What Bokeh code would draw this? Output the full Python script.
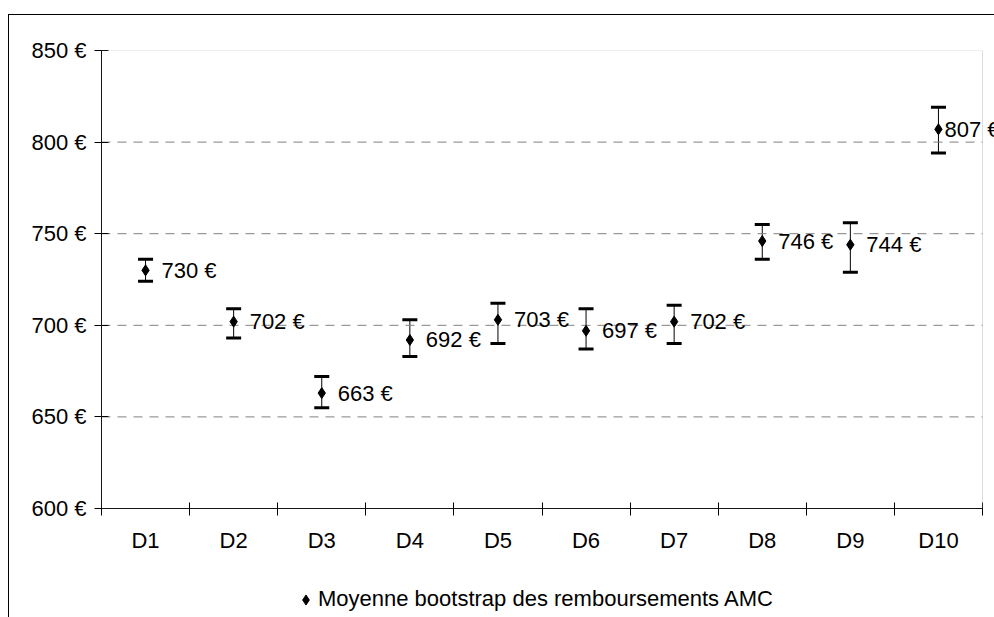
import numpy as np
from bokeh.plotting import figure
from bokeh.layouts import column
from bokeh.models import (ColumnDataSource, Whisker, TeeHead, LabelSet, FixedTicker,
                          PrintfTickFormatter, CustomJSTickFormatter, Legend, LegendItem,
                          BoxAnnotation, Range1d)
from bokeh.core.properties import value
from bokeh.embed import file_html
from bokeh.resources import INLINE

# Deciles and bootstrap means of the AMC reimbursements, with their intervals
deciles = ["D1", "D2", "D3", "D4", "D5", "D6", "D7", "D8", "D9", "D10"]
means = [730, 702, 663, 692, 703, 697, 702, 746, 744, 807]
lower = [724, 693, 655, 683, 690, 687, 690, 736, 729, 794]
upper = [736, 709, 672, 703, 712, 709, 711, 755, 756, 819]
y_ticks = [600, 650, 700, 750, 800, 850]
series_name = "Moyenne bootstrap des remboursements AMC"

FONT = "Liberation Sans"
FS = "22px"
GRID_GREY = "#808080"
n = len(deciles)

x = np.arange(n) + 0.5
# value labels sit right of each marker; the last one is pulled in to stay readable
label_dx = [16] * (n - 1) + [6]
src = ColumnDataSource(dict(
    x=x, mean=means, lower=lower, upper=upper,
    label=[f"{m} €" for m in means], dx=label_dx,
))

# the frame runs to the canvas edge so the last value label is not cut;
# the drawn plot area itself stops at x = n
x_end = n * 893 / 881
p = figure(width=985, height=553, output_backend="svg", toolbar_location=None,
           x_range=Range1d(0, x_end), y_range=Range1d(600, 850),
           min_border_left=92, min_border_right=0, min_border_top=35,
           min_border_bottom=60)
p.background_fill_color = "white"
p.border_fill_color = "white"
p.outline_line_color = None

# dashed horizontal gridlines across the plot area
grid_src = ColumnDataSource(dict(y=y_ticks[1:-1]))
p.segment(x0=0, x1=n, y0="y", y1="y", source=grid_src,
          line_color=GRID_GREY, line_dash="9 7", line_width=1)

# plot-area border
p.add_layout(BoxAnnotation(left=0, right=n, bottom=y_ticks[0], top=y_ticks[-1],
                           fill_color=None, fill_alpha=0,
                           line_color="#8c8c8c", line_width=1))

# error bars
whisk = Whisker(base="x", lower="lower", upper="upper", source=src,
                dimension="height", line_color="black", line_width=1,
                upper_head=TeeHead(size=15, line_width=3, line_color="black"),
                lower_head=TeeHead(size=15, line_width=3, line_color="black"))
p.add_layout(whisk)

r = p.scatter("x", "mean", source=src, marker="diamond", size=11,
              color="black")

labels = LabelSet(x="x", y="mean", text="label", source=src, x_offset="dx",
                  text_baseline="middle", text_align="left",
                  text_font=value(FONT), text_font_size=value(FS),
                  text_color="black")
p.add_layout(labels)

# x axis: boundary ticks as minor ticks, labels at category centres
p.xaxis.bounds = (0, n)
p.xaxis.ticker = FixedTicker(ticks=list(x), minor_ticks=list(range(n + 1)))
p.xaxis.formatter = CustomJSTickFormatter(args=dict(names=deciles),
                                          code="return names[Math.floor(tick)] || ''")
p.xaxis.major_tick_in = 0
p.xaxis.major_tick_out = 0
p.xaxis.minor_tick_in = 6
p.xaxis.minor_tick_out = 7
p.xaxis.minor_tick_line_color = "black"
p.xaxis.axis_line_color = "black"
p.xaxis.major_label_standoff = 12
p.xaxis.major_label_text_font = FONT
p.xaxis.major_label_text_font_size = FS
p.xaxis.major_label_text_color = "black"

# y axis
p.yaxis.ticker = FixedTicker(ticks=y_ticks)
p.yaxis.formatter = PrintfTickFormatter(format="%d €")
p.yaxis.major_tick_in = 7
p.yaxis.major_tick_out = 7
p.yaxis.minor_tick_line_color = None
p.yaxis.axis_line_color = "black"
p.yaxis.major_tick_line_color = "black"
p.yaxis.major_label_standoff = 8
p.yaxis.major_label_text_font = FONT
p.yaxis.major_label_text_font_size = FS
p.yaxis.major_label_text_color = "black"

p.xgrid.visible = False
p.ygrid.visible = False

# key strip under the chart; its frame lines up with the chart's frame,
# and its ranges keep the series' points themselves out of view
k = figure(width=985, height=49, output_backend="svg", toolbar_location=None,
           x_range=Range1d(0, 1), y_range=Range1d(0, 1),
           x_axis_location=None, y_axis_location=None,
           min_border_left=92, min_border_right=0, min_border_top=0,
           min_border_bottom=0)
k.outline_line_color = None
k.xgrid.visible = False
k.ygrid.visible = False
key_r = k.scatter("x", "mean", source=src, marker="diamond", size=11,
                  color="black")
legend = Legend(items=[LegendItem(label=series_name, renderers=[key_r])],
                location=(192, 5), orientation="horizontal",
                border_line_color=None, background_fill_alpha=0,
                label_text_font=FONT, label_text_font_size=FS,
                label_text_color="black",
                margin=0, padding=0, glyph_width=25, glyph_height=25,
                label_standoff=0)
k.add_layout(legend)

# outer chart frame: only its left and top edges fall inside the page
chart = column(p, k, spacing=0, margin=(14, 0, 0, 8),
               styles={"border-left": "1px solid black",
                       "border-top": "1px solid black"})

open("out.html", "w").write(file_html(chart, INLINE))
